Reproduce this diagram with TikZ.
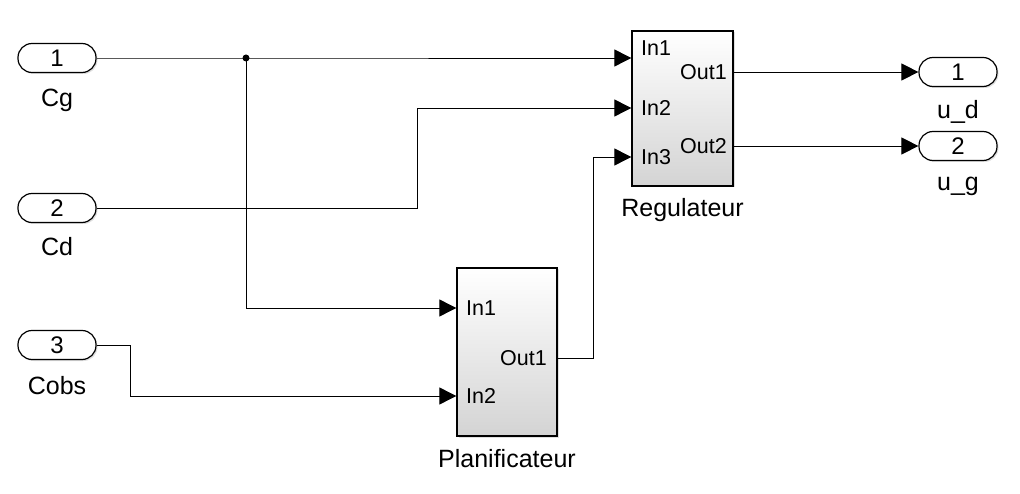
\documentclass[tikz,border=0pt]{standalone}
\usepackage{fontspec}
\setmainfont{Liberation Sans}
\usepackage{tikz}
\usetikzlibrary{arrows.meta,shadows}
\tikzstyle{every node}=[inner sep=0pt]
\tikzstyle{portio}=[draw=black,line width=1.2pt,rounded corners=14pt,minimum width=78pt,minimum height=29pt,fill=white,drop shadow={opacity=0.25,shadow xshift=1.5pt,shadow yshift=-1.5pt},font=\fontsize{24}{27}\selectfont]
\tikzstyle{subsys}=[draw=black,line width=1.3pt,top color=white,bottom color=black!17,drop shadow={opacity=0.25,shadow xshift=1.5pt,shadow yshift=-1.5pt}]
\tikzstyle{lbl}=[font=\fontsize{25}{28}\selectfont]
\tikzstyle{pin}=[font=\fontsize{21.5}{24}\selectfont]
\tikzstyle{sig}=[draw,line width=0.9pt,-{Triangle[length=17pt,width=17pt]}]

\begin{document}
\begin{tikzpicture}[x=1pt,y=-1pt]
		\useasboundingbox (0,0) rectangle (1020,494);
		% inports
		\node[portio] (cg) at (57,58) {1};
		\node[lbl] (cglbl) at (57,100) {Cg};
		\node[portio] (cd) at (57,208) {2};
		\node[lbl] (cdlbl) at (57,247) {Cd};
		\node[portio] (cobs) at (57,345) {3};
		\node[lbl] (cobslbl) at (57,386) {Cobs};
		% outports
		\node[portio] (ud) at (958,72) {1};
		\node[lbl] (udlbl) at (958,112) {u\_d};
		\node[portio] (ug) at (958,146) {2};
		\node[lbl] (uglbl) at (958,186) {u\_g};
		% blocks
		\node[subsys,minimum width=101pt,minimum height=155pt] (reg) at (682.5,108.5) {};
		\node[lbl] (reglbl) at (682.5,210) {Regulateur};
		\node[pin,anchor=west] (rin1) at (641,48) {In1};
		\node[pin,anchor=west] (rin2) at (641,108) {In2};
		\node[pin,anchor=west] (rin3) at (641,157) {In3};
		\node[pin,anchor=east] (rout1) at (727,72) {Out1};
		\node[pin,anchor=east] (rout2) at (727,146) {Out2};
		\node[subsys,minimum width=100pt,minimum height=168pt] (plan) at (507,352) {};
		\node[lbl] (planlbl) at (507,459) {Planificateur};
		\node[pin,anchor=west] (pin1) at (466,308) {In1};
		\node[pin,anchor=west] (pin2) at (466,396) {In2};
		\node[pin,anchor=east] (pout1) at (547,358) {Out1};
		% branch point
		\coordinate (jcg) at (246,58);
		\fill (jcg) circle (3.5pt);
		% signals
		\draw[sig] (cg.east) -- (jcg) -- (jcg -| reg.west);
		\draw[sig] (jcg) |- (pin1.west -| plan.west);
		\draw[sig] (cd.east) -- (417,208) |- (rin2.west -| reg.west);
		\draw[sig] (cobs.east) -- (130,345) |- (pin2.west -| plan.west);
		\draw[sig] (pout1.east -| plan.east) -- (593,358) |- (rin3.west -| reg.west);
		\draw[sig] (rout1.east -| reg.east) -- (ud.west);
		\draw[sig] (rout2.east -| reg.east) -- (ug.west);
\end{tikzpicture}
\end{document}
